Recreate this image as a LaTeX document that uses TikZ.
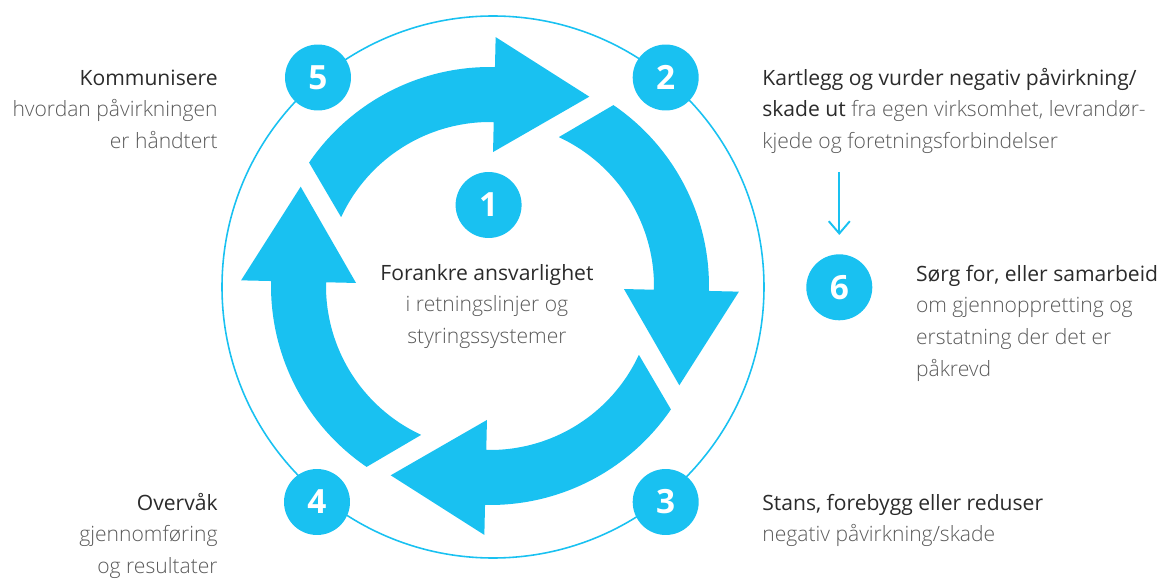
\documentclass[tikz,border=0pt]{standalone}
\usepackage{fontspec}
\setmainfont{Open Sans}
\newfontfamily\lightfont{Open Sans Light}
\usetikzlibrary{arrows.meta}
\definecolor{cyanblue}{HTML}{19C1F1}
\definecolor{headgray}{HTML}{2B2B2B}
\definecolor{bodygray}{HTML}{5A5A5A}
\tikzset{every node/.style={inner sep=0pt}}
\tikzset{num/.style={circle,fill=cyanblue,minimum size=1.32cm,text=white,font=\fontsize{19}{19}\selectfont\bfseries}}
\tikzset{txt/.style={text=bodygray,font=\fontsize{12}{18}\selectfont\lightfont}}
\newcommand{\hd}[1]{{\normalfont\color{headgray}#1}}

\begin{document}
\begin{tikzpicture}[x=0.02cm,y=0.02cm]
      \useasboundingbox (0,0) rectangle (1161,579);
      \begin{scope}[shift={(490,293)}]
        \foreach \b in {88.7,-1.3,-91.3,-181.3}
          \fill[cyanblue] ({\b+57}:219) arc[start angle=\b+57,end angle=\b,radius=219]
            -- (\b:249) -- ({\b-26.38}:213.8) -- (\b:134) -- (\b:164)
            arc[start angle=\b,end angle=\b+66.5,radius=164] -- cycle;
      \end{scope}
      \draw[cyanblue,line width=0.9pt] (493,292) circle[radius=271];
      \node[num] (n1) at (488.6,374) {1};
      \node[num] (n2) at (665.7,501.5) {2};
      \node[num] (n3) at (665.7,77) {3};
      \node[num] (n4) at (317,77) {4};
      \node[num] (n5) at (318,501.5) {5};
      \node[num] (n6) at (839.3,291.7) {6};
      \node[txt,align=center,anchor=base] (t1) at (487,235.5) {\hd{Forankre ansvarlighet}\\i retningslinjer og\\styringssystemer};
      \node[txt,align=left,anchor=base west] (t2) at (762,430.5) {\hd{Kartlegg og vurder negativ påvirkning/}\\\hd{skade ut} fra egen virksomhet, levrandør-\\kjede og foretningsforbindelser};
      \node[txt,align=left,anchor=base west] (t3) at (762,37.3) {\hd{Stans, forebygg eller reduser}\\negativ påvirkning/skade};
      \node[txt,align=right,anchor=base east] (t4) at (218,5.5) {\hd{Overvåk}\\gjennomføring\\og resultater};
      \node[txt,align=right,anchor=base east] (t5) at (218,430.5) {\hd{Kommunisere}\\hvordan påvirkningen\\er håndtert};
      \node[txt,align=left,anchor=base west] (t6) at (915.7,202.8) {\hd{Sørg for, eller samarbeid}\\om gjennoppretting og\\erstatning der det er\\påkrevd};
      \coordinate (a6) at (839.3,407);
        \draw[cyanblue,line width=1.1pt,-{Straight Barb[length=7pt,width=12pt]},shorten >=0.38cm] (a6) -- (n6);
    \end{tikzpicture}
\end{document}
